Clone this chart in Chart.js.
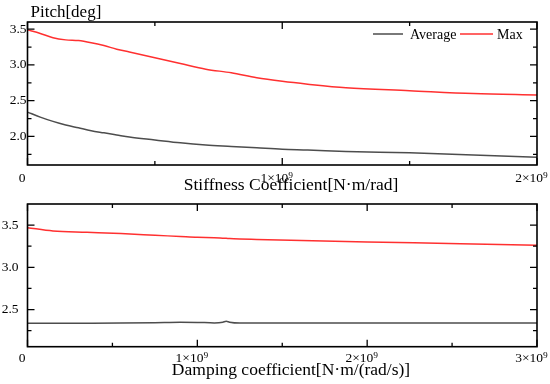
<!DOCTYPE html>
<html>
<head>
<meta charset="utf-8">
<script src="https://cdn.jsdelivr.net/npm/chart.js@4.4.1/dist/chart.umd.min.js"></script>
<style>
  body { margin: 0; background: #fff; }
  .wrap { position: relative; width: 550px; height: 384px; }
  #stiffChart { position: absolute; left: 0; top: 0; }
  #dampChart { position: absolute; left: 0; top: 196px; }
</style>
</head>
<body>
<div class="wrap">
  <canvas id="stiffChart" width="550" height="196"></canvas>
  <canvas id="dampChart" width="550" height="188"></canvas>
</div>
<script>
const seriesNames = ["Average", "Max"];

// stiffness sweep (top panel)
const stiffX = [0, 0.05e9, 0.1e9, 0.15e9, 0.2e9, 0.25e9, 0.3e9, 0.35e9, 0.4e9, 0.5e9, 0.6e9, 0.7e9, 0.8e9, 0.9e9, 1.0e9, 1.1e9, 1.25e9, 1.5e9, 1.75e9, 2.0e9];
const stiffAvg = [2.34, 2.27, 2.21, 2.16, 2.12, 2.08, 2.05, 2.02, 1.99, 1.95, 1.91, 1.88, 1.86, 1.84, 1.82, 1.81, 1.79, 1.77, 1.74, 1.71];
const stiffMax = [3.49, 3.44, 3.38, 3.35, 3.34, 3.31, 3.27, 3.22, 3.18, 3.10, 3.02, 2.94, 2.89, 2.82, 2.77, 2.73, 2.68, 2.64, 2.60, 2.58];
const stiffXTicks = [0, 0.5e9, 1e9, 1.5e9, 2e9];
const stiffYTicks = [1.75, 2.0, 2.25, 2.5, 2.75, 3.0, 3.25, 3.5];

// damping sweep (bottom panel)
const dampX = [0, 0.15e9, 0.35e9, 0.55e9, 0.75e9, 0.9e9, 1.0e9, 1.1e9, 1.15e9, 1.17e9, 1.19e9, 1.25e9, 1.35e9, 1.55e9, 2.0e9, 2.55e9, 3.0e9];
const dampAvg = [2.337, 2.337, 2.338, 2.34, 2.345, 2.35, 2.348, 2.342, 2.35, 2.362, 2.35, 2.34, 2.34, 2.34, 2.34, 2.34, 2.34];
const dampMax = [3.47, 3.43, 3.415, 3.40, 3.38, 3.365, 3.355, 3.35, 3.345, 3.343, 3.34, 3.335, 3.33, 3.32, 3.30, 3.28, 3.26];
const dampXTicks = [0, 0.5e9, 1e9, 1.5e9, 2e9, 2.5e9, 3e9];
const dampYTicks = [2.25, 2.5, 2.75, 3.0, 3.25, 3.5];

const lineColors = ["#4d4d4d", "#ff3030"];
const SERIF = "'Liberation Serif', 'DejaVu Serif', serif";

Chart.defaults.font.family = SERIF;
Chart.defaults.color = "#000";

function toPoints(xs, ys) {
  return xs.map((x, i) => ({ x, y: ys[i] }));
}

function onStep(value, step) {
  const r = value / step;
  return Math.abs(r - Math.round(r)) < 1e-6;
}

// frame with inward ticks on all four sides, titles and legend
const framePlugin = {
  id: "frame",
  afterDatasetsDraw(chart) {
    const { ctx, chartArea: a } = chart;
    const x = chart.scales.x;
    const y = chart.scales.y;
    ctx.save();
    ctx.strokeStyle = "#000";
    ctx.lineWidth = 1.3;
    ctx.beginPath();
    x.ticks.forEach((t) => {
      const px = x.getPixelForValue(t.value);
      const len = t.label ? 7 : 4;
      ctx.moveTo(px, a.bottom);
      ctx.lineTo(px, a.bottom - len);
      ctx.moveTo(px, a.top);
      ctx.lineTo(px, a.top + len);
    });
    y.ticks.forEach((t) => {
      const py = y.getPixelForValue(t.value);
      const len = t.label ? 7 : 4;
      ctx.moveTo(a.left, py);
      ctx.lineTo(a.left + len, py);
      ctx.moveTo(a.right, py);
      ctx.lineTo(a.right - len, py);
    });
    ctx.stroke();
    ctx.lineWidth = 1.6;
    ctx.strokeRect(a.left, a.top, a.right - a.left, a.bottom - a.top);
    ctx.restore();
  },
  afterDraw(chart, args, opts) {
    const { ctx, chartArea: a } = chart;
    ctx.save();
    ctx.fillStyle = "#000";
    ctx.textBaseline = "alphabetic";
    ctx.font = `17.5px ${SERIF}`;
    ctx.textAlign = "center";
    ctx.fillText(opts.xTitle, opts.xTitleX, opts.xTitleY);
    if (opts.yTitle) {
      ctx.font = `17px ${SERIF}`;
      ctx.textAlign = "left";
      ctx.fillText(opts.yTitle, a.left + 3, 17);
    }
    if (opts.legend) {
      ctx.font = `14px ${SERIF}`;
      ctx.textAlign = "left";
      ctx.textBaseline = "middle";
      const ly = a.top + 12;
      const items = [
        { x0: a.right - 164, x1: a.right - 134, tx: a.right - 127 },
        { x0: a.right - 77, x1: a.right - 44, tx: a.right - 40 },
      ];
      chart.data.datasets.forEach((ds, i) => {
        const it = items[i];
        ctx.strokeStyle = ds.borderColor;
        ctx.lineWidth = 1.5;
        ctx.beginPath();
        ctx.moveTo(it.x0, ly);
        ctx.lineTo(it.x1, ly);
        ctx.stroke();
        ctx.fillText(ds.label, it.tx, ly + 1);
      });
    }
    ctx.restore();
  },
};

function makePanel(canvasId, cfg) {
  return new Chart(document.getElementById(canvasId), {
    type: "line",
    data: {
      datasets: [
        { label: seriesNames[0], data: toPoints(cfg.xs, cfg.avg), borderColor: lineColors[0] },
        { label: seriesNames[1], data: toPoints(cfg.xs, cfg.max), borderColor: lineColors[1] },
      ],
    },
    options: {
      responsive: false,
      animation: false,
      devicePixelRatio: 1,
      layout: { padding: { left: 0, right: 13, top: cfg.top, bottom: 0 } },
      elements: {
        point: { radius: 0 },
        line: { borderWidth: 1.5, cubicInterpolationMode: "monotone" },
      },
      scales: {
        x: {
          type: "linear",
          min: 0,
          max: cfg.xMax,
          grid: { display: false, drawTicks: false },
          border: { display: false },
          afterBuildTicks: (s) => {
            s.ticks = cfg.xTicks.map((v) => ({ value: v }));
          },
          ticks: {
            autoSkip: false,
            maxRotation: 0,
            padding: cfg.xTickPad,
            labelOffset: -5.5,
            font: { size: 13.5 },
            callback: (v) => (v === 0 ? "0" : onStep(v, 1e9) ? `${Math.round(v / 1e9)}×10⁹` : ""),
          },
          afterFit: (s) => {
            s.height = cfg.xAxisH;
            s.paddingLeft = 0;
            s.paddingRight = 0;
          },
        },
        y: {
          min: cfg.yMin,
          max: cfg.yMax,
          grid: { display: false, drawTicks: false },
          border: { display: false },
          afterBuildTicks: (s) => {
            s.ticks = cfg.yTicks.map((v) => ({ value: v }));
          },
          ticks: {
            autoSkip: false,
            padding: cfg.yTickPad,
            font: { size: 13.5 },
            callback: (v) => (onStep(v, 0.5) ? v.toFixed(1) : ""),
          },
          afterFit: (s) => {
            s.width = 27.5;
            s.paddingTop = 0;
            s.paddingBottom = 0;
          },
        },
      },
      plugins: {
        legend: { display: false },
        tooltip: { enabled: false },
        frame: cfg.frame,
      },
    },
    plugins: [framePlugin],
  });
}

makePanel("stiffChart", {
  xs: stiffX, avg: stiffAvg, max: stiffMax,
  xTicks: stiffXTicks, yTicks: stiffYTicks,
  xMax: 2e9, yMin: 1.6, yMax: 3.6,
  top: 22, xAxisH: 31, xTickPad: 5, yTickPad: 1,
  frame: { xTitle: "Stiffness Coefficient[N·m/rad]", xTitleX: 291, xTitleY: 190, yTitle: "Pitch[deg]", legend: true },
});

makePanel("dampChart", {
  xs: dampX, avg: dampAvg, max: dampMax,
  xTicks: dampXTicks, yTicks: dampYTicks,
  xMax: 3e9, yMin: 2.06, yMax: 3.75,
  top: 8, xAxisH: 37.3, xTickPad: 4, yTickPad: 9,
  frame: { xTitle: "Damping coefficient[N·m/(rad/s)]", xTitleX: 291, xTitleY: 179, legend: false },
});
</script>
</body>
</html>
